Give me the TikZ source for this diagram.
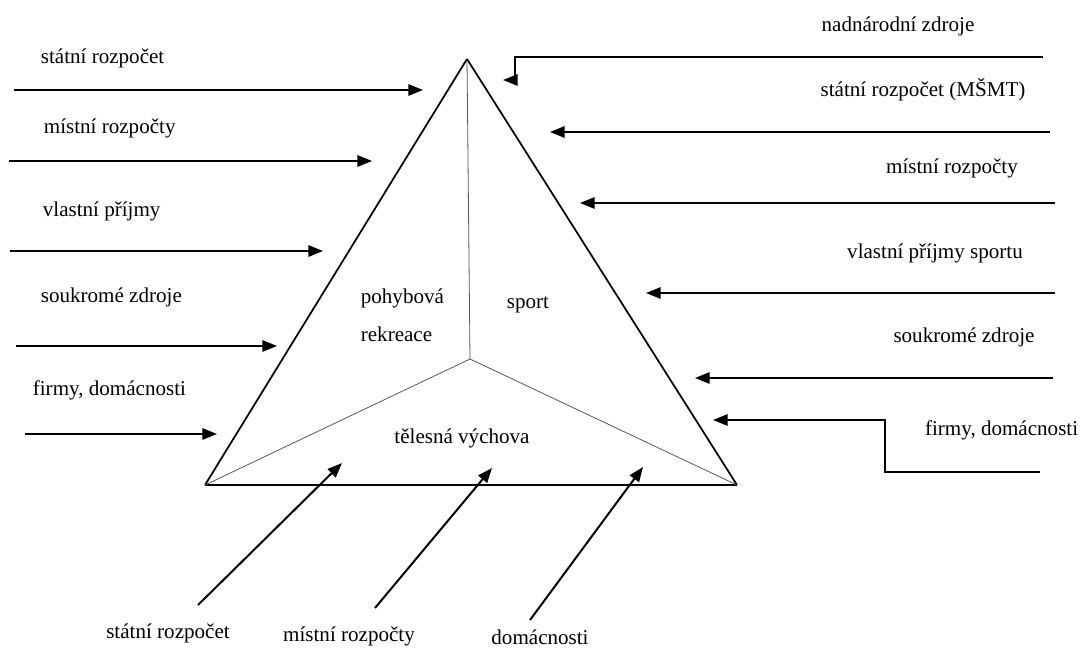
\documentclass[tikz,border=0pt]{standalone}
\usepackage{fontspec}
\setmainfont{Liberation Serif}
\usetikzlibrary{arrows.meta}

\begin{document}
\begin{tikzpicture}[x=0.75pt, y=-0.75pt, line width=1.3pt,
  tok/.style={line width=1.5pt, -{Triangle[length=11pt, width=8.5pt]}},
  lbl/.style={font=\fontsize{15.8}{18}\selectfont, inner sep=0pt},
  dil/.style={line width=0.6pt, gray!70!black}]
  \useasboundingbox (0,0) rectangle (1081,650);

  % trojúhelník: vrchol nahoře, levý a pravý roh základny, střed
  \coordinate (V) at (467, 59);
  \coordinate (L) at (205, 485);
  \coordinate (R) at (737, 485);
  \coordinate (S) at (470, 359);

  \draw (V) -- (L);
  \draw (V) -- (R);
  \draw[line width=1pt] (L) -- (R);

  % dělicí čáry uvnitř
  \draw[dil] (V) -- (S);
  \draw[dil] (S) -- (L);
  \draw[dil] (S) -- (R);

  \node[lbl, anchor=west] (rek1) at (360, 298) {pohybová};
  \node[lbl, anchor=west] (rek2) at (360, 334) {rekreace};
  \node[lbl] (spo) at (528, 305) {sport};
  \node[lbl] (tv)  at (462, 438) {tělesná výchova};

  % levá strana: zdroje pohybové rekreace
  \coordinate (la1) at (14, 90);   \coordinate (lb1) at (423, 90);
  \coordinate (la2) at (9, 161);   \coordinate (lb2) at (372, 161);
  \coordinate (la3) at (10, 251);  \coordinate (lb3) at (323, 251);
  \coordinate (la4) at (16, 346);  \coordinate (lb4) at (277, 346);
  \coordinate (la5) at (25, 434);  \coordinate (lb5) at (217, 434);

  \draw[tok] (la1) -- (lb1);
  \draw[tok] (la2) -- (lb2);
  \draw[tok] (la3) -- (lb3);
  \draw[tok] (la4) -- (lb4);
  \draw[tok] (la5) -- (lb5);

  \node[lbl, anchor=west] (ll1) at (40, 58)  {státní rozpočet};
  \node[lbl, anchor=west] (ll2) at (43, 128) {místní rozpočty};
  \node[lbl, anchor=west] (ll3) at (42, 211) {vlastní příjmy};
  \node[lbl, anchor=west] (ll4) at (40, 297) {soukromé zdroje};
  \node[lbl, anchor=west] (ll5) at (32, 390) {firmy, domácnosti};

  % pravá strana: zdroje sportu
  \coordinate (ra0) at (1043, 57); \coordinate (rk0) at (515, 57);
  \coordinate (rb0) at (503, 80);
  \coordinate (ra1) at (1050, 132); \coordinate (rb1) at (550, 132);
  \coordinate (ra2) at (1055, 203); \coordinate (rb2) at (580, 203);
  \coordinate (ra3) at (1055, 293); \coordinate (rb3) at (646, 293);
  \coordinate (ra4) at (1053, 378); \coordinate (rb4) at (695, 378);
  \coordinate (ra5) at (1040, 472); \coordinate (rk5) at (885, 472);
  \coordinate (rb5) at (713, 420);

  \draw[tok] (ra0) -- (rk0) |- (rb0);
  \draw[tok] (ra1) -- (rb1);
  \draw[tok] (ra2) -- (rb2);
  \draw[tok] (ra3) -- (rb3);
  \draw[tok] (ra4) -- (rb4);
  \draw[tok] (ra5) -- (rk5) |- (rb5);

  \node[lbl] (rl0) at (898, 26)  {nadnárodní zdroje};
  \node[lbl] (rl1) at (923, 90)  {státní rozpočet (MŠMT)};
  \node[lbl] (rl2) at (952, 168) {místní rozpočty};
  \node[lbl] (rl3) at (935, 253) {vlastní příjmy sportu};
  \node[lbl] (rl4) at (964, 337) {soukromé zdroje};
  \node[lbl, anchor=east] (rl5) at (1079, 430) {firmy, domácnosti};

  % dole: zdroje tělesné výchovy
  \coordinate (da1) at (198, 605); \coordinate (db1) at (342, 463);
  \coordinate (da2) at (375, 608); \coordinate (db2) at (492, 468);
  \coordinate (da3) at (530, 620); \coordinate (db3) at (643, 467);

  \draw[tok] (da1) -- (db1);
  \draw[tok] (da2) -- (db2);
  \draw[tok] (da3) -- (db3);

  \node[lbl] (dl1) at (168, 633) {státní rozpočet};
  \node[lbl] (dl2) at (349, 636) {místní rozpočty};
  \node[lbl] (dl3) at (540, 637) {domácnosti};
\end{tikzpicture}
\end{document}
